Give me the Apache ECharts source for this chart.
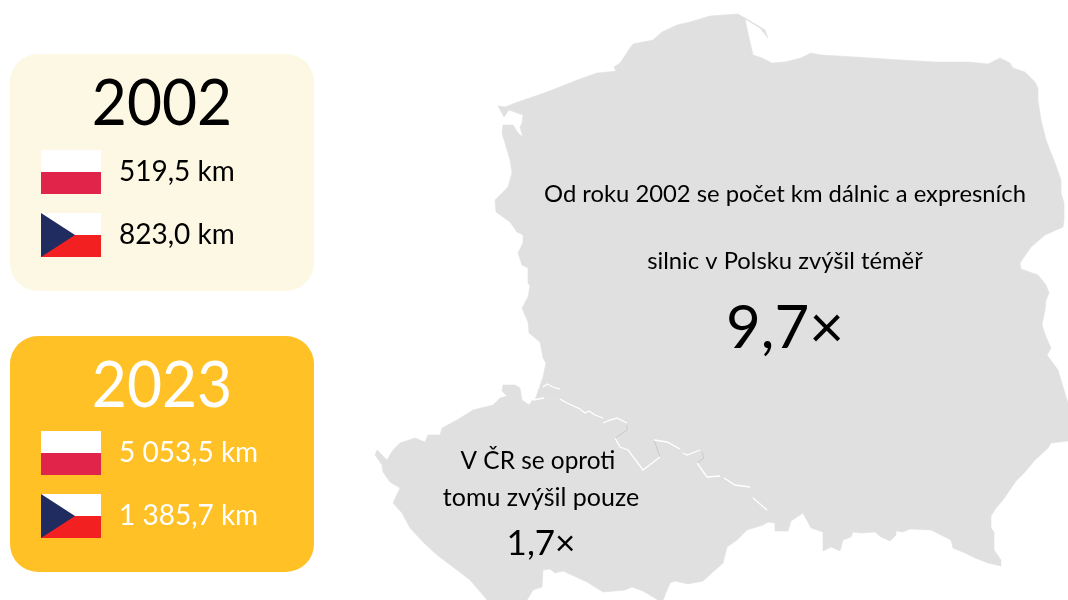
<!DOCTYPE html>
<html lang="cs">
<head>
<meta charset="utf-8">
<title>Dálnice a expresní silnice</title>
<style>
  html, body { margin: 0; padding: 0; background: #fff; }
  #chart { width: 1068px; height: 600px; }
</style>
<script src="https://cdn.jsdelivr.net/npm/echarts@6/dist/echarts.min.js"></script>
</head>
<body>
<div id="chart"></div>
<script>
// values
const years = ['2002', '2023'];
const polandKm = [519.5, 5053.5];
const czechKm = [823.0, 1385.7];
const polandGrowth = 9.7;
const czechGrowth = 1.7;
const polandText = ['Od roku 2002 se počet km dálnic a expresních', 'silnic v Polsku zvýšil téměř'];
const czechText = ['V ČR se oproti', 'tomu zvýšil pouze'];

// country outlines, traced in picture space
const polandOutline = [[529,405],[535,400],[543,377],[546,363],[543,358],[540,342],[529,333],[528,322],[522,308],[528,297],[530,286],[528,283],[528,268],[522,265],[518,253],[523,243],[523,235],[517,232],[510,222],[496,212],[495,200],[508,187],[512,173],[510,160],[502,133],[503,125],[513,125],[518,133],[523,137],[520,127],[522,123],[523,115],[509,110],[504,117],[498,106],[505,107],[515,103],[547,92],[580,79],[597,73],[608,72],[616,71],[614,67],[620,63],[630,48],[633,44],[653,40],[662,32],[677,25],[690,22],[710,16],[738,14],[757,25],[765,30],[768,38],[760,28],[745,19],[748,33],[753,55],[762,58],[772,63],[785,62],[801,58],[811,53],[821,55],[855,57],[901,60],[935,62],[968,62],[988,64],[1000,58],[1010,63],[1013,68],[1025,72],[1035,82],[1038,88],[1038,100],[1041,120],[1046,140],[1055,163],[1061,180],[1061,193],[1064,203],[1064,220],[1063,227],[1045,235],[1031,247],[1020,263],[1021,269],[1038,275],[1046,285],[1049,293],[1046,300],[1045,310],[1042,325],[1046,337],[1051,348],[1047,355],[1058,370],[1066,397],[1068,403],[1068,441],[1051,443],[1048,448],[1035,460],[1025,472],[1016,481],[1003,500],[996,508],[991,516],[991,528],[994,532],[994,550],[1001,560],[1001,566],[988,563],[975,558],[965,553],[953,548],[951,540],[941,535],[931,530],[910,529],[903,532],[896,531],[896,535],[890,541],[881,537],[875,532],[861,533],[853,532],[851,537],[843,540],[840,551],[831,547],[823,551],[823,532],[811,528],[803,513],[791,521],[788,531],[775,531],[775,523]];
const czechOutline = [[775,523],[768,522],[763,525],[747,530],[737,540],[727,547],[723,563],[713,572],[703,581],[688,584],[675,581],[670,583],[663,600],[658,600],[643,591],[632,587],[625,590],[603,592],[587,582],[563,571],[555,573],[550,569],[543,570],[542,587],[533,590],[527,600],[487,600],[483,595],[470,580],[457,570],[437,555],[423,542],[410,528],[402,513],[393,503],[400,488],[390,482],[383,472],[382,465],[375,455],[377,450],[387,460],[393,450],[400,443],[415,438],[425,442],[428,435],[440,435],[442,428],[457,420],[473,410],[493,405],[500,398],[507,396],[502,391],[503,385],[515,385],[520,388],[522,400],[529,405]];
const sharedBorder = [[529,405],[533,400],[544,398],[560,399],[567,403],[580,409],[585,413],[589,411],[595,415],[603,418],[610,420],[617,418],[627,423],[627,427],[615,438],[620,447],[628,450],[643,470],[660,457],[654,440],[667,442],[680,449],[687,455],[700,450],[704,458],[697,463],[707,477],[720,476],[735,485],[750,487],[753,498],[767,510],[768,515],[775,523]];
const borderWhite = [
  [[533,400],[544,398]],
  [[543,387],[547,384],[553,387],[560,389]],
  [[560,399],[567,403],[580,409],[585,413],[589,411],[595,415],[603,418]],
  [[603,423],[610,420],[617,418],[627,423]],
  [[615,438],[620,447],[628,450],[643,470],[660,457]],
  [[654,440],[667,442],[680,449]],
  [[683,453],[687,455],[700,450]],
  [[697,463],[707,477],[720,476]],
  [[724,478],[735,485],[750,487]],
  [[753,498],[767,510]]
];
const borderShade = [
  [[627,425],[627,430],[615,438]],
  [[660,457],[654,440]],
  [[702,452],[704,458],[697,463]]
];

const FONT = 'Lato, "Open Sans", sans-serif';
const MAP_GRAY = '#e0e0e0';

function formatKm(v) {
  const parts = v.toFixed(1).split('.');
  return parts[0].replace(/\B(?=(\d{3})+$)/g, ' ') + ',' + parts[1] + ' km';
}

function formatGrowth(v) {
  return String(v).replace('.', ',') + '×';
}

function label(x, y, text, size, color, align, scaleX) {
  return {
    type: 'text',
    z: 10,
    x: x,
    y: y,
    scaleX: scaleX || 1,
    style: {
      text: text,
      fill: color,
      font: size + 'px ' + FONT,
      textAlign: align || 'center',
      textVerticalAlign: 'middle'
    }
  };
}

function flagRect(y, height, fill) {
  return { type: 'rect', z: 5, shape: { x: 41, y: y, width: 60, height: height }, style: { fill: fill } };
}

function polishFlag(y) {
  return [flagRect(y, 22, '#ffffff'), flagRect(y + 22, 22, '#e0244a')];
}

function czechFlag(y) {
  return [
    flagRect(y, 22, '#ffffff'),
    flagRect(y + 22, 22, '#f32022'),
    { type: 'polygon', z: 6, shape: { points: [[41, y], [75, y + 22], [41, y + 44]] }, style: { fill: '#202b60' } }
  ];
}

function yearPanel(i, top, height, flagTop, fill, textColor) {
  return [
    { type: 'rect', z: 4, shape: { x: 10, y: top, width: 304, height: height, r: 28 }, style: { fill: fill } },
    label(162, top + 50.5, years[i], 63, textColor, 'center', 0.96),
    ...polishFlag(flagTop),
    label(119, flagTop + 22, formatKm(polandKm[i]), 28, textColor, 'left'),
    ...czechFlag(flagTop + 63),
    label(119, flagTop + 85, formatKm(czechKm[i]), 28, textColor, 'left')
  ];
}

function polygonFeature(name, ring) {
  return {
    type: 'Feature',
    properties: { name: name },
    geometry: { type: 'Polygon', coordinates: [ring.concat([ring[0]])] }
  };
}

echarts.registerMap('polandCzechia', {
  type: 'FeatureCollection',
  features: [
    polygonFeature('Polsko', polandOutline.concat(sharedBorder.slice(1, -1).reverse())),
    polygonFeature('Česko', czechOutline.concat(sharedBorder.slice(1, -1)))
  ]
});

const chart = echarts.init(document.getElementById('chart'), null, { renderer: 'canvas' });

chart.setOption({
  animation: false,
  backgroundColor: '#ffffff',
  geo: {
    map: 'polandCzechia',
    projection: { project: p => p, unproject: p => p },
    boundingCoords: [[0, 0], [1068, 600]],
    left: 0,
    top: 0,
    width: 1068,
    height: 600,
    roam: false,
    silent: true,
    label: { show: false },
    itemStyle: { areaColor: MAP_GRAY, borderColor: MAP_GRAY, borderWidth: 0.6 }
  },
  series: [
    {
      type: 'lines',
      coordinateSystem: 'geo',
      polyline: true,
      silent: true,
      lineStyle: { color: '#c9c9c9', width: 1, opacity: 1 },
      data: borderShade.map(c => ({ coords: c }))
    },
    {
      type: 'lines',
      coordinateSystem: 'geo',
      polyline: true,
      silent: true,
      lineStyle: { color: '#ffffff', width: 1.3, opacity: 1 },
      data: borderWhite.map(c => ({ coords: c }))
    }
  ],
  graphic: {
    elements: [
      ...yearPanel(0, 54, 237, 150, '#fdf8e3', '#000000'),
      ...yearPanel(1, 336, 236, 431, '#ffc125', '#ffffff'),
      label(785, 194, polandText[0], 23.8, '#000000'),
      label(785, 261, polandText[1], 23.8, '#000000'),
      label(785, 329, formatGrowth(polandGrowth), 60, '#000000'),
      label(538, 461, czechText[0], 24.4, '#000000'),
      label(541, 498, czechText[1], 25, '#000000'),
      label(541, 544, formatGrowth(czechGrowth), 35, '#000000')
    ]
  }
});
</script>
</body>
</html>
